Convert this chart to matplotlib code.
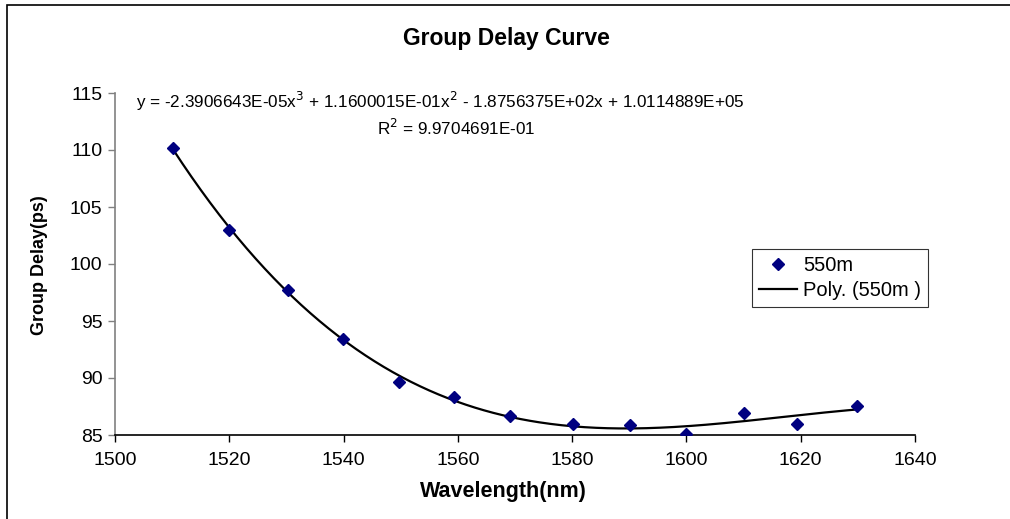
import numpy as np
import matplotlib
matplotlib.use("Agg")
import matplotlib.pyplot as plt
from matplotlib.patches import Rectangle

plt.rcParams['font.family'] = ['Liberation Sans', 'DejaVu Sans']

wavelength = [1510.2, 1520.0, 1530.2, 1539.9, 1549.7, 1559.4, 1569.1,
              1580.1, 1590.1, 1600.0, 1610.0, 1619.3, 1629.8]
delay = [110.15, 102.98, 97.72, 93.42, 89.65, 88.3, 86.67,
         85.96, 85.88, 85.06, 86.9, 85.96, 87.57]

equation = ('y = -2.3906643E-05x$^3$ + 1.1600015E-01x$^2$ '
            '- 1.8756375E+02x + 1.0114889E+05')
r2_text = 'R$^2$ = 9.9704691E-01'

W, H = 1010, 519
fig = plt.figure(figsize=(W / 100, H / 100), dpi=100)
ax = fig.add_axes([115 / W, 1 - 435 / H, 800 / W, (435 - 93) / H])

# chart area border (runs off right and bottom edges)
fig.patches.append(Rectangle((7 / W, -0.1), 1.2, 1 - 5 / H + 0.1,
                             transform=fig.transFigure, fill=False,
                             edgecolor='black', linewidth=1.2))

# cubic trendline fitted to the data
xc = np.mean(wavelength)
coef = np.polyfit(np.array(wavelength) - xc, delay, 3)
xs = np.linspace(min(wavelength), max(wavelength), 300)
ys = np.polyval(coef, xs - xc)

ax.plot(wavelength, delay, linestyle='none', marker='D', markersize=6,
        color='#000080', label='550m', zorder=3)
ax.plot(xs, ys, color='black', linewidth=1.6, label='Poly. (550m )', zorder=2)

ax.set_xlim(1500, 1640)
ax.set_ylim(85, 115)
ax.set_xticks(np.arange(1500, 1641, 20))
ax.set_yticks(np.arange(85, 116, 5))
ax.tick_params(direction='out', length=5, labelsize=14, width=1)
ax.tick_params(axis='x', pad=7)
ax.tick_params(axis='y', colors='#808080', labelcolor='black', pad=4)
for s in ['top', 'right']:
    ax.spines[s].set_visible(False)
ax.spines['left'].set_color('#808080')
ax.spines['left'].set_linewidth(1.2)
ax.spines['bottom'].set_linewidth(1.2)

fig.text(506 / W, 1 - 39 / H, 'Group Delay Curve', ha='center', va='center',
         fontsize=16.5, fontweight='bold')
fig.text(440 / W, 1 - 101 / H, equation, ha='center', va='center',
         fontsize=12.3)
fig.text(456 / W, 1 - 128 / H, r2_text, ha='center', va='center',
         fontsize=12.3)
fig.text(503 / W, 1 - 491 / H, 'Wavelength(nm)', ha='center', va='center',
         fontsize=15.5, fontweight='bold')
fig.text(40 / W, 1 - 265 / H, 'Group Delay(ps)', ha='center', va='center',
         rotation=90, fontsize=13, fontweight='bold')

leg = ax.legend(loc='upper left', bbox_to_anchor=((752 - 115) / 800, (435 - 249) / 342),
                frameon=True, fancybox=False, edgecolor='black', fontsize=14.5,
                borderpad=0.35, handlelength=1.9, handletextpad=0.3,
                labelspacing=0.3, borderaxespad=0)
leg.get_frame().set_linewidth(0.8)

fig.savefig('out.png', dpi=100)
